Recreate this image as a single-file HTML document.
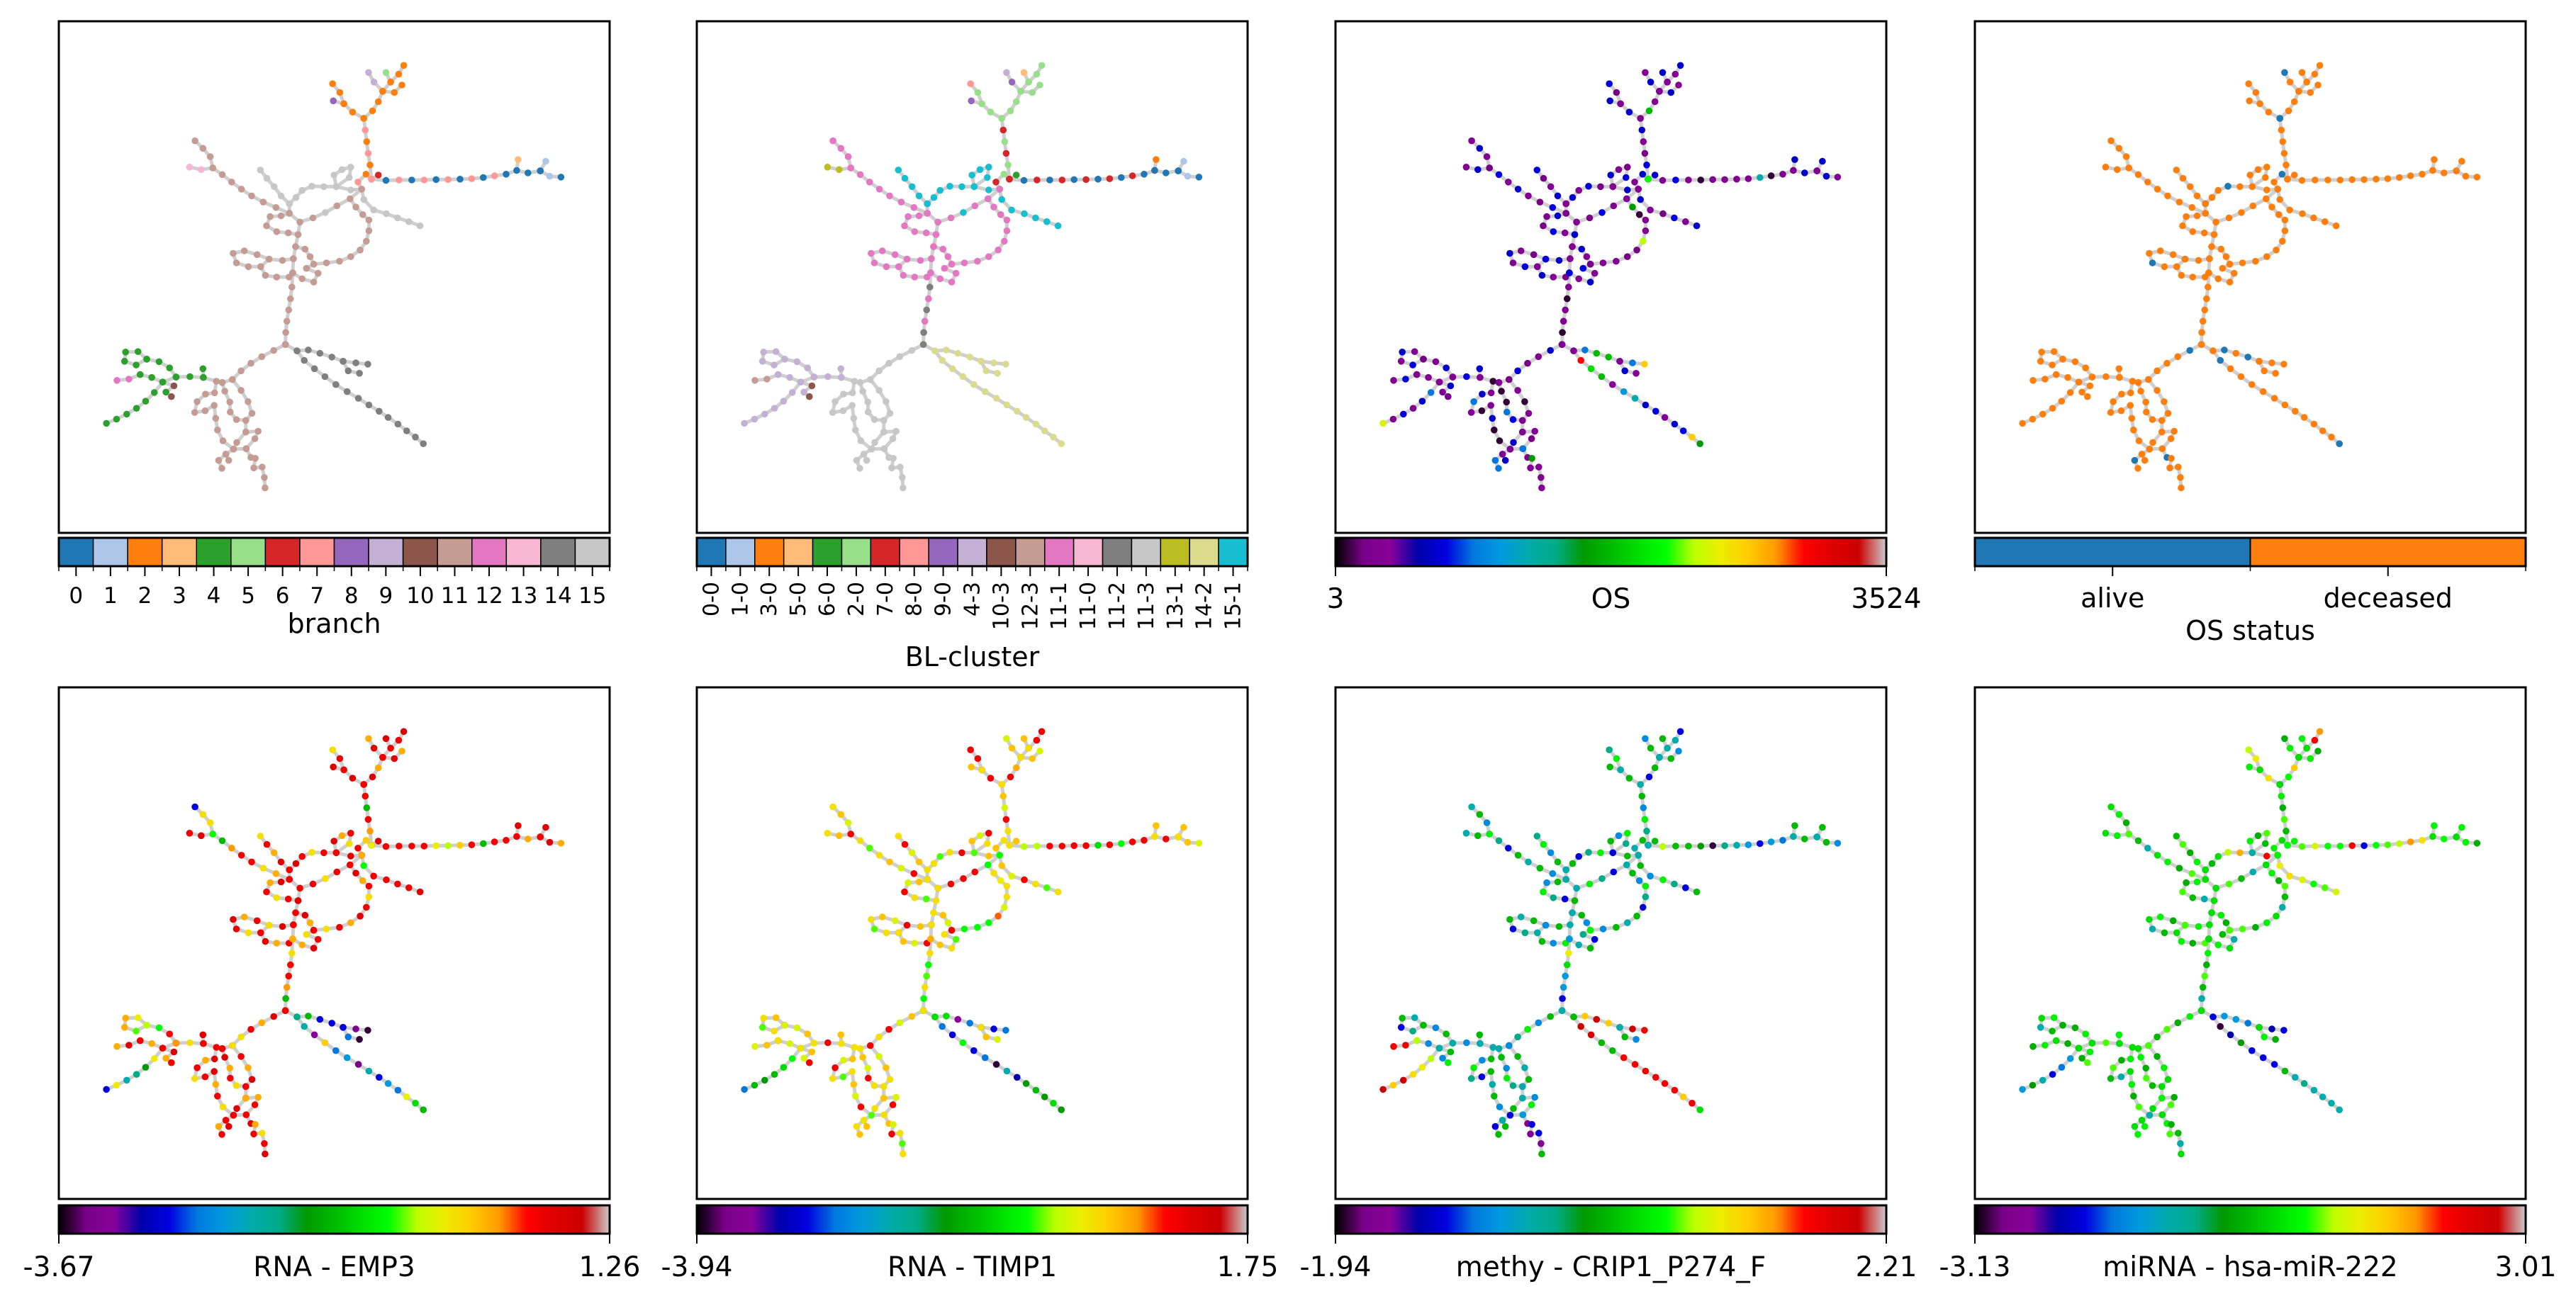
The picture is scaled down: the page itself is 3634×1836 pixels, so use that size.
<!DOCTYPE html>
<html><head><meta charset="utf-8"><title>Trajectory panels</title>
<style>html,body{margin:0;padding:0;background:#fff}svg{display:block}text{font-family:"DejaVu Sans","Liberation Sans",sans-serif;fill:#000}</style>
</head><body>
<svg id="fig" xmlns="http://www.w3.org/2000/svg" width="3634" height="1836" viewBox="0 0 3634 1836"></svg>
<script>
// ---------- tree layout (reference coordinates) ----------
const pathNames = ["orangeL","purple","orangeR","lav","lgreen","orangeR2","salmon","red","blue","lblue1","lblue2","peach","greyLoop","greyUp","greySmall","greyRight","pinkL","brownArm","brownA","brownRing","brownB","brownC","brownD","brownE","brownF","trunk","dgrey1","dgrey2","dgrey3","brownLow","stub","green1","pinkG","green2","green3","dbrown","lowA","lowA2","lowB","lowC","lowD"];
const pathPoints = {
orangeL:[[848,250],[817,235],[793,215],[782,188],[762,167]],
purple:[[793,215],[764,208]],
orangeR:[[848,250],[872,232],[888,210],[900,185],[922,163],[944,144],[958,123]],
lav:[[900,185],[876,163],[861,140]],
lgreen:[[922,163],[909,140]],
orangeR2:[[900,185],[932,188],[953,170]],
salmon:[[848,250],[852,278],[856,306],[860,334],[865,362],[869,396],[854,384],[832,403],[842,420]],
red:[[869,396],[888,386]],
blue:[[869,396],[909,399],[945,398],[980,398],[1014,398],[1047,397],[1080,397],[1113,396],[1145,395],[1177,392],[1208,388],[1240,384],[1269,375],[1300,381],[1334,376]],
lblue1:[[1334,376],[1349,353]],
lblue2:[[1334,376],[1360,389],[1391,391]],
peach:[[1269,375],[1273,349]],
greyLoop:[[842,420],[812,422],[772,414],[738,414],[705,413],[678,423],[661,440],[643,455]],
greyUp:[[643,455],[620,436],[601,414],[581,394],[563,374]],
greySmall:[[772,414],[766,386],[788,373],[812,367],[808,392],[772,414]],
greyRight:[[842,420],[848,445],[875,470],[910,479],[941,489],[972,498],[1003,508]],
pinkL:[[368,367],[400,373],[432,369]],
brownArm:[[383,304],[405,322],[425,342],[432,369],[458,385],[484,403],[511,420],[539,436],[571,451],[606,464],[643,478]],
brownA:[[643,455],[643,478],[672,499],[708,489],[742,476],[774,460],[810,443],[842,420]],
brownRing:[[810,443],[826,463],[845,481],[862,494],[862,520],[855,545],[838,566],[812,582],[781,593],[745,597],[710,600]],
brownB:[[672,499],[667,529],[660,558],[654,587],[652,621]],
brownC:[[643,478],[620,484],[590,486],[580,508],[608,522],[640,525],[667,529]],
brownD:[[660,558],[686,564],[700,582],[710,600],[690,610],[722,622],[710,643],[678,635],[652,621]],
brownE:[[654,587],[624,591],[587,588],[564,606],[530,606],[497,597],[488,574],[519,568],[554,577],[587,588]],
brownF:[[564,606],[577,627],[608,631],[642,631],[652,621]],
trunk:[[652,621],[650,655],[646,683],[641,710],[636,737],[633,764],[632,793]],
dgrey1:[[632,793],[664,808],[695,806],[727,814],[760,823],[791,833],[826,837],[859,840]],
dgrey2:[[791,833],[805,856],[836,862]],
dgrey3:[[664,808],[684,831],[712,851],[741,870],[771,889],[802,906],[833,922],[862,938],[890,953],[915,968],[942,984],[966,1000],[990,1015],[1012,1031]],
brownLow:[[632,793],[600,807],[567,822],[537,838],[510,856],[486,877],[458,884],[442,881],[406,872],[369,870],[331,871]],
stub:[[406,872],[405,851]],
green1:[[331,871],[294,883],[264,872],[232,865]],
pinkG:[[232,865],[201,876],[168,879]],
green2:[[294,883],[271,908],[247,929],[222,946],[195,960],[167,972],[139,982]],
green3:[[331,871],[313,849],[284,834],[250,828],[221,842],[189,833],[192,811],[226,810],[250,828]],
dbrown:[[294,883],[325,892],[303,907],[318,918]],
lowA:[[442,881],[437,909],[412,912],[389,930],[382,956],[411,952],[436,939],[440,970],[445,998],[460,1024],[489,1044],[468,1056],[448,1071],[457,1090]],
lowA2:[[468,1056],[476,1071]],
lowB:[[458,884],[465,905],[479,931],[480,955],[497,973],[523,975],[540,958],[529,930],[510,903],[486,877]],
lowC:[[523,975],[523,1003],[557,1001],[548,1019],[524,1043],[489,1044],[498,1028],[523,1003]],
lowD:[[524,1043],[537,1064],[549,1066],[545,1089],[568,1087],[574,1112],[576,1137]]
};
// ---------- categorical data ----------
const tab = ["#1f77b4","#aec7e8","#ff7f0e","#ffbb78","#2ca02c","#98df8a","#d62728","#ff9896","#9467bd","#c5b0d5","#8c564b","#c49c94","#e377c2","#f7b6d2","#7f7f7f","#c7c7c7","#bcbd22","#dbdb8d","#17becf"];
const branchLabels = ["0","1","2","3","4","5","6","7","8","9","10","11","12","13","14","15"];
const branchOfPath = {orangeL:[2],purple:[2,8],orangeR:[2],lav:[2,9,9],lgreen:[2,5],orangeR2:[2],salmon:[2,7],red:[7,6],blue:[7,0],lblue1:[0,1],lblue2:[0,1],peach:[0,3],greyLoop:[15],greyUp:[15],greySmall:[15],greyRight:[15],pinkL:[13,13,11],brownArm:[11],brownA:[15,11],brownRing:[11],brownB:[11],brownC:[11],brownD:[11],brownE:[11],brownF:[11],trunk:[11],dgrey1:[14],dgrey2:[14],dgrey3:[14],brownLow:[11,11,11,11,11,11,11,11,4,4,4],stub:[4],green1:[4],pinkG:[4,12,12],green2:[4],green3:[4],dbrown:[4,10],lowA:[11],lowA2:[11],lowB:[11],lowC:[11],lowD:[11]};
const blLabels = ["0-0","1-0","3-0","5-0","6-0","2-0","7-0","8-0","9-0","4-3","10-3","12-3","11-1","11-0","11-2","11-3","13-1","14-2","15-1"];
const blOfPath = {orangeL:[5,5,5,5,7],purple:[5,8],orangeR:[5],lav:[5,8,9],lgreen:[5,3],orangeR2:[5],salmon:[5,6],red:[6,4],blue:[6,0],lblue1:[0,1],lblue2:[0,1],peach:[0,2],greyLoop:[18],greyUp:[18],greySmall:[18],greyRight:[18],pinkL:[16,16,12],brownArm:[12],brownA:[18,12],brownRing:[12],brownB:[12],brownC:[12],brownD:[12],brownE:[12],brownF:[12],trunk:[12,14],dgrey1:[17],dgrey2:[17],dgrey3:[17],brownLow:[14,15,15,15,15,15,15,15,9,9,9],stub:[9],green1:[9],pinkG:[9,11,11],green2:[9],green3:[9],dbrown:[9,10],lowA:[15],lowA2:[15],lowB:[15],lowC:[15],lowD:[15]};
const statusLabels = ["alive","deceased"];
const statusOfPath = {orangeL:[0,1,1,1,1],orangeR:[0,1,1,1,1,1,1],lav:[1,1,0],salmon:[0,1,1,1,1,1,0,1,1],blue:[1,1,1,1,1,1,1,1,1,1,1,1,1,1,0],greyLoop:[0,1,1,1,0,1,1,0],greyUp:[0,1,1,1,1],brownE:[1,1,0,1,1,0,1,1,1,1],brownLow:[1,0,1,1,1,1,1,1,1,1,1],dgrey1:[1,1,0,1,0,1,1,1],dgrey3:[1,0,1,1,1,1,1,1,1,1,1,1,1,0],lowA:[1,1,1,1,1,1,1,1,1,1,1,1,0,1],lowD:[1,0,1,1,1,1,1]};
// ---------- continuous data (fraction of colour range) ----------
const osVals = {default:[0.08,0.18,0.08,0.05,0.2],blue:[0.6,0.08,0.2,0.08,0.02,0.08,0.08,0.08,0.08,0.35,0.02,0.08,0.5,0.18,0.2],orangeR:[0.75,0.5,0.08,0.2,0.08,0.08,0.18],dgrey1:[0.08,0.08,0.25,0.5,0.5,0.25,0.25,0.75],dgrey3:[0.08,0.85,0.55,0.5,0.1,0.3,0.35,0.18,0.2,0.08,0.18,0.2,0.75,0.45],trunk:[0.2,0.08,0.02,0.08,0.08,0.02,0.08],brownRing:[0.08,0.45,0.02,0.08,0.08,0.65,0.05,0.05,0.08,0.08,0.18],pinkG:[0.08,0.2,0.08],green2:[0.08,0.25,0.18,0.08,0.2,0.08,0.68],lowA:[0.02,0.08,0.18,0.25,0.08,0.02,0.08,0.18,0.02,0.02,0.08,0.3,0.25,0.25],lowB:[0.08,0.02,0.02,0.25,0.2,0.35,0.08,0.02,0.08,0.05],lowD:[0.25,0.08,0.45,0.08,0.08,0.08,0.08]};
const emp3Vals = {default:[0.87,0.9,0.78,0.87,0.72],blue:[0.7,0.87,0.87,0.87,0.87,0.7,0.65,0.75,0.87,0.5,0.87,0.87,0.65,0.78,0.87],trunk:[0.78,0.72,0.85,0.87,0.8,0.5,0.45],dgrey1:[0.45,0.55,0.5,0.2,0.2,0.1,0.08,0.02],dgrey2:[0.2,0.25,0.02],dgrey3:[0.4,0.35,0.1,0.75,0.25,0.3,0.05,0.35,0.2,0.3,0.25,0.7,0.55,0.5],green2:[0.6,0.7,0.45,0.4,0.35,0.7,0.2],green3:[0.8,0.85,0.6,0.72,0.62,0.78,0.78,0.7,0.65],greyRight:[0.87,0.6,0.87,0.87,0.87,0.87,0.9],salmon:[0.87,0.87,0.5,0.87,0.8,0.87,0.75,0.87,0.7],brownArm:[0.2,0.72,0.72,0.6,0.5,0.8,0.87,0.87,0.72,0.78,0.87]};
const timp1Vals = {default:[0.72,0.76,0.68,0.87,0.72,0.62],orangeL:[0.78,0.87,0.87,0.87,0.87],orangeR:[0.78,0.87,0.78,0.87,0.87,0.87,0.87],blue:[0.72,0.65,0.65,0.87,0.87,0.87,0.87,0.55,0.87,0.6,0.87,0.87,0.8,0.87,0.87],brownA:[0.72,0.87,0.87,0.87,0.87,0.87,0.6,0.6],dgrey1:[0.5,0.55,0.55,0.1,0.25,0.2,0.2,0.25],dgrey3:[0.55,0.25,0.2,0.6,0.2,0.25,0.02,0.35,0.15,0.45,0.5,0.45,0.55,0.45],green2:[0.6,0.6,0.55,0.5,0.45,0.5,0.25],trunk:[0.78,0.72,0.6,0.62,0.72,0.6,0.55],brownRing:[0.6,0.72,0.7,0.72,0.72,0.68,0.82,0.6,0.6,0.6,0.62]};
const methyVals = {default:[0.35,0.5,0.28,0.58,0.4,0.2,0.5],blue:[0.35,0.65,0.5,0.5,0.45,0.02,0.4,0.35,0.3,0.2,0.3,0.25,0.58,0.5,0.45],dgrey3:[0.5,0.95,0.92,0.5,0.5,0.87,0.87,0.87,0.87,0.87,0.87,0.75,0.87,0.55],dgrey1:[0.5,0.45,0.75,0.95,0.75,0.95,0.95,0.87],green2:[0.58,0.65,0.7,0.72,0.95,0.75,0.95],lowD:[0.3,0.08,0.2,0.08,0.2,0.08,0.5],trunk:[0.3,0.7,0.55,0.3,0.3,0.2,0.55],pinkG:[0.65,0.87,0.87],orangeR:[0.75,0.2,0.5,0.3,0.58,0.35,0.2]};
const mirVals = {default:[0.55,0.58,0.48,0.62,0.5,0.35],blue:[0.6,0.62,0.68,0.6,0.6,0.87,0.2,0.6,0.62,0.65,0.8,0.72,0.7,0.6,0.5],orangeR:[0.2,0.6,0.75,0.5,0.55,0.87,0.8],orangeL:[0.2,0.72,0.78,0.7,0.65],dgrey1:[0.2,0.35,0.3,0.3,0.25,0.2,0.15,0.2],dgrey3:[0.2,0.02,0.15,0.45,0.2,0.2,0.2,0.5,0.35,0.4,0.35,0.35,0.35,0.35],green2:[0.5,0.3,0.25,0.2,0.35,0.45,0.3],greyLoop:[0.6,0.87,0.78,0.78,0.65,0.55,0.5,0.5],greyRight:[0.6,0.7,0.72,0.68,0.6,0.62,0.68]};

const cmapStops = [[0,0,0,0],[0.05,0.47,0,0.53],[0.10,0.53,0,0.60],[0.15,0,0,0.67],[0.20,0,0,0.87],[0.25,0,0.47,0.87],[0.30,0,0.60,0.87],[0.35,0,0.67,0.67],[0.40,0,0.67,0.53],[0.45,0,0.60,0],[0.50,0,0.73,0],[0.55,0,0.87,0],[0.60,0,1,0],[0.65,0.73,1,0],[0.70,0.93,0.93,0],[0.75,1,0.80,0],[0.80,1,0.60,0],[0.85,1,0,0],[0.90,0.87,0,0],[0.95,0.80,0,0],[1,0.80,0.80,0.80]];
function cmap(v){v=Math.max(0,Math.min(1,v));for(let i=1;i<cmapStops.length;i++){const a=cmapStops[i-1],b=cmapStops[i];if(v<=b[0]){const t=(v-a[0])/(b[0]-a[0]);const c=[1,2,3].map(k=>Math.round(255*(a[k]+(b[k]-a[k])*t)));return `rgb(${c[0]},${c[1]},${c[2]})`;}}return "#ccc";}

const NS="http://www.w3.org/2000/svg";
const svg=document.getElementById('fig');
function mk(tag,attrs,parent){const e=document.createElementNS(NS,tag);for(const k in attrs)e.setAttribute(k,attrs[k]);(parent||svg).appendChild(e);return e;}

const colLeft=[83,983,1884,2786], PW=777;
const rowTop=[30,970], PH=722;
const RX0=8,RX1=1525,RY0=17,RY1=1245;

function drawPanel(ci,ri,colorFor,name){
  const L=colLeft[ci],T=rowTop[ri];
  const g=mk('g',{});
  
  
  const sx=x=>L+(x-RX0)/(RX1-RX0)*PW, sy=y=>T+(y-RY0)/(RY1-RY0)*PH;
  const eg=mk('g',{},g);
  
  
  pathNames.forEach(n=>{
    const pts=pathPoints[n];
    const pl=mk('polyline',{points:pts.map(p=>sx(p[0]).toFixed(1)+','+sy(p[1]).toFixed(1)).join(' '),fill:'none',stroke:'#cfcfcf','stroke-width':5,'stroke-linejoin':'round'},eg);
    
    
  });
  const ng=mk('g',{},g);
  
  
  pathNames.forEach(n=>{
    pathPoints[n].forEach((p,i)=>{
      const c=mk('circle',{cx:sx(p[0]).toFixed(1),cy:sy(p[1]).toFixed(1),r:4.8,fill:colorFor(n,i)},ng);
      
      
    });
  });
  const fr=mk('rect',{x:L,y:T,width:PW,height:PH,fill:'none',stroke:'#000','stroke-width':3},g);
  
  
}
function pick(obj,n,i,def){const a=obj[n]||def;return a[i%a.length];}

function catBar(ci,labels,colors,title,rotate){
  const L=colLeft[ci],T=759,H=40,n=labels.length,w=PW/n;
  const g=mk('g',{});
  
  
  labels.forEach((lab,i)=>{
    const r=mk('rect',{x:L+i*w,y:T,width:w,height:H,fill:colors[i],stroke:'#000','stroke-width':1.5},g);
    
    
    const cx=L+(i+0.5)*w;
    mk('line',{x1:cx,y1:T+H,x2:cx,y2:T+H+14,stroke:'#000','stroke-width':2},g);
    mk('line',{x1:L+i*w,y1:T+H,x2:L+i*w,y2:T+H+7,stroke:'#000','stroke-width':1.5},g);
    let t;
    if(rotate){t=mk('text',{x:cx+10,y:T+H+22,'font-size':30,'text-anchor':'end',transform:`rotate(-90 ${cx+10} ${T+H+22})`},g);}
    else{t=mk('text',{x:cx,y:T+H+52,'font-size':31,'text-anchor':'middle'},g);}
    t.textContent=lab;
    
    
  });
  mk('line',{x1:L+PW,y1:T+H,x2:L+PW,y2:T+H+7,stroke:'#000','stroke-width':1.5},g);
  mk('rect',{x:L,y:T,width:PW,height:H,fill:'none',stroke:'#000','stroke-width':3},g);
  const tt=mk('text',{x:L+PW/2,y:rotate?940:893,'font-size':38,'text-anchor':'middle'},g);
  tt.textContent=title;
  
  
}
function statusBar(ci){
  const L=colLeft[ci],T=759,H=40;
  const g=mk('g',{});
  
  
  const cols=[tab[0],tab[2]];
  statusLabels.forEach((lab,i)=>{
    mk('rect',{x:L+i*PW/2,y:T,width:PW/2,height:H,fill:cols[i],stroke:'#000','stroke-width':2},g);
    const cx=L+(i+0.5)*PW/2;
    mk('line',{x1:cx,y1:T+H,x2:cx,y2:T+H+14,stroke:'#000','stroke-width':2},g);
    const t=mk('text',{x:cx,y:T+H+58,'font-size':38,'text-anchor':'middle'},g);
    t.textContent=lab;
    
    
  });
  [0,0.5,1].forEach(f=>mk('line',{x1:L+f*PW,y1:T+H,x2:L+f*PW,y2:T+H+7,stroke:'#000','stroke-width':1.5},g));
  mk('rect',{x:L,y:T,width:PW,height:H,fill:'none',stroke:'#000','stroke-width':3},g);
  const tt=mk('text',{x:L+PW/2,y:903,'font-size':38,'text-anchor':'middle'},g);
  tt.textContent='OS status';
  
  
}
const defs=mk('defs',{});
const grad=mk('linearGradient',{id:'spec',x1:0,x2:1,y1:0,y2:0},defs);
cmapStops.forEach(s=>mk('stop',{offset:s[0],'stop-color':cmap(s[0])},grad));
function contBar(ci,ri,lo,hi,title){
  const L=colLeft[ci],T=ri?1701:759,H=40,base=ri?1801:858;
  const g=mk('g',{});
  
  
  mk('rect',{x:L,y:T,width:PW,height:H,fill:'url(#spec)',stroke:'#000','stroke-width':3},g);
  mk('line',{x1:L,y1:T+H,x2:L,y2:T+H+14,stroke:'#000','stroke-width':2},g);
  mk('line',{x1:L+PW,y1:T+H,x2:L+PW,y2:T+H+14,stroke:'#000','stroke-width':2},g);
  [[L,lo,'min-label'],[L+PW/2,title,'colorbar-title'],[L+PW,hi,'max-label']].forEach(a=>{
    const t=mk('text',{x:a[0],y:base,'font-size':39,'text-anchor':'middle'},g);
    t.textContent=a[1];
    
    
  });
}

drawPanel(0,0,(n,i)=>tab[pick(branchOfPath,n,i,[11])],'branch');
catBar(0,branchLabels,tab.slice(0,16),'branch',false);
drawPanel(1,0,(n,i)=>tab[pick(blOfPath,n,i,[12])],'bl-cluster');
catBar(1,blLabels,tab,'BL-cluster',true);
drawPanel(2,0,(n,i)=>cmap(pick(osVals,n,i,osVals.default)),'os');
contBar(2,0,'3','3524','OS');
drawPanel(3,0,(n,i)=>tab[pick(statusOfPath,n,i,[1])?2:0],'os-status');
statusBar(3);
drawPanel(0,1,(n,i)=>cmap(pick(emp3Vals,n,i,emp3Vals.default)),'rna-emp3');
contBar(0,1,'-3.67','1.26','RNA - EMP3');
drawPanel(1,1,(n,i)=>cmap(pick(timp1Vals,n,i,timp1Vals.default)),'rna-timp1');
contBar(1,1,'-3.94','1.75','RNA - TIMP1');
drawPanel(2,1,(n,i)=>cmap(pick(methyVals,n,i,methyVals.default)),'methy-crip1');
contBar(2,1,'-1.94','2.21','methy - CRIP1_P274_F');
drawPanel(3,1,(n,i)=>cmap(pick(mirVals,n,i,mirVals.default)),'mirna-222');
contBar(3,1,'-3.13','3.01','miRNA - hsa-miR-222');
</script>
</body></html>
